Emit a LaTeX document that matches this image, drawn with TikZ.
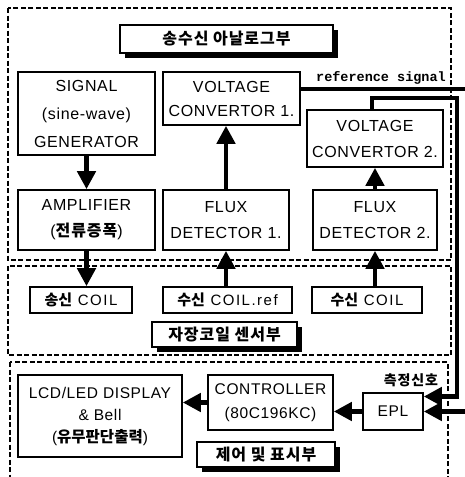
\documentclass[tikz,border=0pt]{standalone}
\usepackage{fontspec}
\setmainfont{Liberation Sans}[LetterSpace=4]
\setmonofont{Liberation Mono}
\newfontfamily\kr{Noto Sans CJK KR}
\newfontfamily\krw{Noto Sans CJK KR}[LetterSpace=6]
\usetikzlibrary{arrows.meta,shadows}
\begin{document}
\begin{tikzpicture}[x=1pt,y=-1pt,
  box/.style={draw, line width=1.6pt, fill=white, align=center, inner sep=0pt,
    font=\fontsize{16}{26}\selectfont},
  coilbox/.style={box, minimum height=26pt, font=\fontsize{15}{20}\selectfont\addfontfeature{LetterSpace=10}},
  titlebox/.style={draw, line width=1.6pt, fill=white, inner sep=0pt,
    font=\krw\bfseries\fontsize{16}{20}\selectfont,
    drop shadow={shadow xshift=5pt, shadow yshift=-5pt, fill=black, opacity=1}},
  conn/.style={line width=4.5pt, -{Triangle[length=18pt,width=18pt]}},
  sect/.style={draw, line width=1.4pt, dash pattern=on 5pt off 2.5pt}]
\useasboundingbox (0,0) rectangle (465,477);
\fill[white] (0,0) rectangle (465,477);

% sections
\draw[sect] (8,8) rectangle (451,260);
\draw[sect] (8,266) rectangle (451,355);
\draw[sect] (10,362) rectangle (448,495);

% titles
\node[titlebox, minimum width=213pt, minimum height=28pt] (t1) at (226.5,39) {송수신 아날로그부};
\node[titlebox, minimum width=145pt, minimum height=25pt] (t2) at (224.5,334.5) {자장코일 센서부};
\node[titlebox, minimum width=138pt, minimum height=25pt] (t3) at (266,454.5) {제어 및 표시부};

% boxes
\node[box, minimum width=137pt, minimum height=83pt, font=\fontsize{16}{28}\selectfont] (gen) at (86.5,113.5) {SIGNAL\\(sine-wave)\\GENERATOR};
\node[box, minimum width=137pt, minimum height=53pt, font=\fontsize{16}{24}\selectfont] (vc1) at (231.5,98.5) {VOLTAGE\\CONVERTOR 1.};
\node[box, minimum width=136pt, minimum height=57pt, font=\fontsize{16}{26}\selectfont] (vc2) at (375,138.5) {VOLTAGE\\CONVERTOR 2.};
\node[box, minimum width=137pt, minimum height=60pt] (amp) at (86.5,220) {AMPLIFIER\\({\krw\bfseries 전류증폭})};
\node[box, minimum width=126pt, minimum height=60pt] (fd1) at (226,220) {FLUX\\DETECTOR 1.};
\node[box, minimum width=124pt, minimum height=60pt] (fd2) at (375,220) {FLUX\\DETECTOR 2.};
\node[coilbox, minimum width=102pt] (c1) at (81,300) {{\kr\bfseries 송신} COIL};
\node[coilbox, minimum width=129pt] (c2) at (227.5,300) {{\kr\bfseries 수신} COIL.ref};
\node[coilbox, minimum width=110pt] (c3) at (367,300) {{\kr\bfseries 수신} COIL};
\node[box, minimum width=164pt, minimum height=82pt, font=\fontsize{15.5}{22}\selectfont] (lcd) at (100,416) {LCD/LED DISPLAY\\\& Bell\\({\kr\bfseries 유무판단출력})};
\node[box, minimum width=125pt, minimum height=55pt, font=\fontsize{15.5}{24}\selectfont] (ctrl) at (270.5,402.5) {CONTROLLER\\(80C196KC)};
\node[box, minimum width=60pt, minimum height=37pt, font=\fontsize{15.5}{20}\selectfont] (epl) at (393,411.5) {EPL};

% labels
\node[font=\fontsize{13.5}{13.5}\selectfont\ttfamily\bfseries] (lref) at (381,78) {reference signal};
\node[font=\krw\bfseries\fontsize{14}{14}\selectfont] (lmeas) at (411,380) {측정신호};

% connectors
\draw[conn] (gen.south) -- (amp.north);
\draw[conn] (amp.south) -- (amp.south |- c1.north);
\draw[conn] (fd1.north) -- (fd1.north |- vc1.south);
\draw[conn] (c2.north -| fd1.south) -- (fd1.south);
\draw[conn] (fd2.north) -- (fd2.north |- vc2.south);
\draw[conn] (c3.north -| fd2.south) -- (fd2.south);
\draw[conn] (ctrl.west) -- (ctrl.west -| lcd.east);
\draw[conn] (epl.west) -- (epl.west -| ctrl.east);

\coordinate (k1) at (457,98);
\draw[conn] ([xshift=-3pt]vc2.north) |- (k1) |- ([yshift=15pt]epl.east);
\coordinate (r1) at (475,89);
\draw[conn] ([yshift=9.5pt]vc1.east) -- ([yshift=9.5pt]vc1.east -| r1) |- (epl.east);
\end{tikzpicture}
\end{document}
